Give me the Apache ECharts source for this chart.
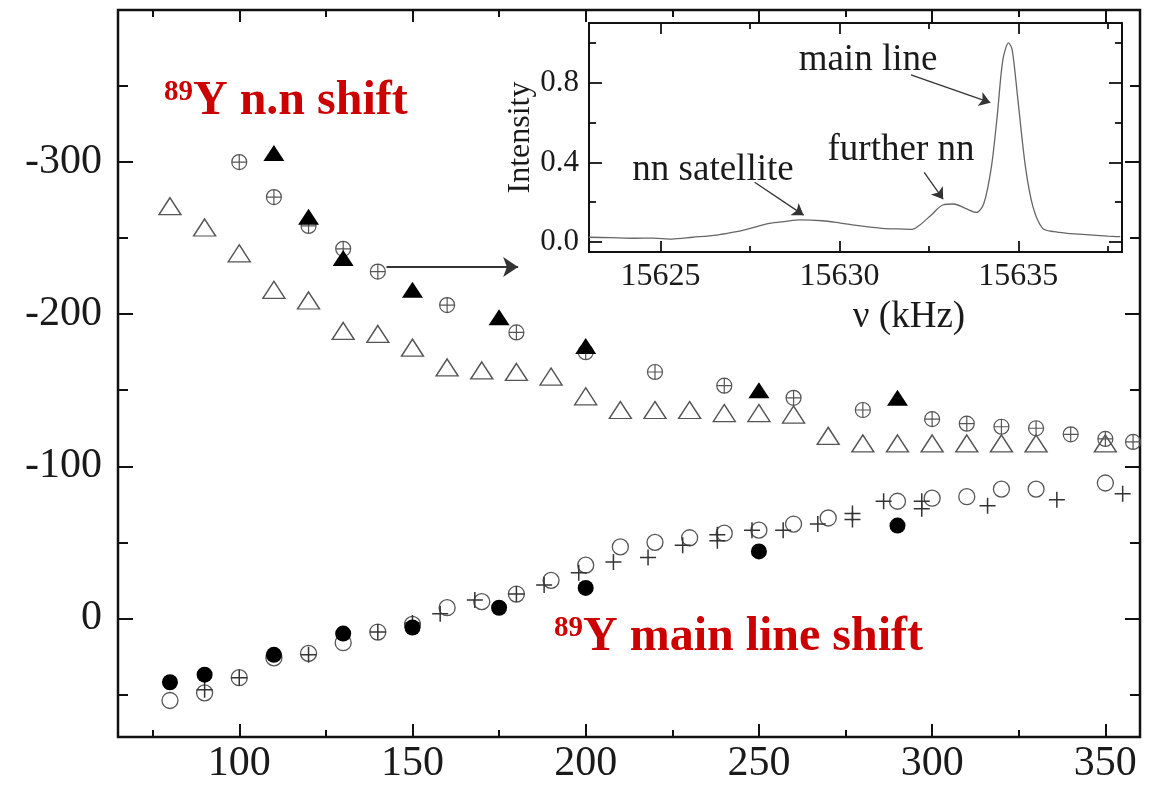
<!DOCTYPE html>
<html>
<head>
<meta charset="utf-8">
<script src="https://cdn.jsdelivr.net/npm/echarts@6/dist/echarts.min.js"></script>
<style>html,body{margin:0;padding:0;background:#fff;}#c{width:1149px;height:788px;}</style>
</head>
<body>
<div id="c"></div>
<script>
// ---------- tick values ----------
const X_MAJOR = [100, 150, 200, 250, 300, 350];
const X_MINOR = [75, 125, 175, 225, 275, 325];
const Y_MAJOR = [-400, -300, -200, -100, 0];
const Y_LABELS = [-300, -200, -100, 0];
const Y_MINOR = [-350, -250, -150, -50, 50];
const NU_MAJOR = [15625, 15630, 15635];
const NU_MINOR = [15627.5, 15632.5, 15637.5];
const I_MAJOR = [0, 0.4, 0.8];
const I_MINOR = [0.2, 0.6, 1.0];

// ---------- main panel data ----------
// open triangles
const triOpenX = [80, 90, 100, 110, 120, 130, 140, 150, 160, 170, 180, 190, 200, 210, 220, 230, 240, 250, 260, 270, 280, 290, 300, 310, 320, 330, 350];
const triOpenY = [-271, -257, -240, -216, -209, -189, -187, -178, -165, -163, -162, -159, -146, -137, -137, -137, -135, -135, -134, -120, -115, -115, -115, -115, -115, -115, -115];
// filled triangles
const triFillX = [110, 120, 130, 150, 175, 200, 250, 290];
const triFillY = [-306, -264, -237, -216, -198, -179, -150, -145];
// crossed circles
const crossCircX = [100, 110, 120, 130, 140, 160, 180, 200, 220, 240, 260, 280, 300, 310, 320, 330, 340, 350, 358];
const crossCircY = [-300, -277, -258, -243, -228, -206, -188, -175, -162, -153, -145, -137, -131, -128, -126, -125, -121, -118, -116];
// open circles
const circOpenX = [80, 90, 100, 110, 120, 130, 140, 150, 160, 170, 180, 190, 200, 210, 220, 230, 240, 250, 260, 270, 290, 300, 310, 320, 330, 350];
const circOpenY = [54, 49, 39, 26, 23, 16, 9, 4, -7, -11, -16, -25, -35, -47, -50, -53, -56, -58, -62, -66, -77, -79, -80, -85, -85, -89];
// plus signs
const plusX = [90, 100, 120, 140, 150, 158, 168, 180, 188, 198, 208, 218, 228, 238, 238, 248, 257, 267, 277, 277, 286, 297, 297, 316, 336, 355];
const plusY = [47, 39, 24, 9, 3, -3, -12, -16, -22, -30, -37, -40, -48, -55, -51, -58, -58, -62, -69, -65, -77, -77, -72, -74, -78, -82];
// filled circles
const circFillX = [80, 90, 110, 130, 150, 175, 200, 250, 290];
const circFillY = [42, 37, 24, 10, 6, -7, -20, -44, -61];

// arrow in main panel (from -> to)
const arrowMainX = [142.5, 180.5];
const arrowMainY = [-231, -231];

// ---------- inset spectrum ----------
const nu = [15622.99, 15623.6, 15624.26, 15624.8, 15625.31, 15625.9, 15626.57, 15627.0, 15627.41, 15628.04, 15628.5, 15628.89, 15629.52, 15630.0, 15630.36, 15630.8, 15631.2, 15631.6, 15632.04, 15632.25, 15632.57, 15632.89, 15633.2, 15633.52, 15633.83, 15634.04, 15634.25, 15634.41, 15634.57, 15634.73, 15634.83, 15634.99, 15635.2, 15635.41, 15635.68, 15636.0, 15636.36, 15636.7, 15637.09, 15637.5, 15637.85];
const intensity = [0.024, 0.022, 0.019, 0.02, 0.015, 0.024, 0.035, 0.048, 0.064, 0.094, 0.104, 0.111, 0.107, 0.096, 0.086, 0.076, 0.069, 0.066, 0.064, 0.086, 0.136, 0.186, 0.191, 0.169, 0.149, 0.195, 0.379, 0.63, 0.916, 1.0, 0.966, 0.714, 0.379, 0.178, 0.069, 0.052, 0.044, 0.04, 0.035, 0.03, 0.027];

// inset arrows [fromNu, fromI, toNu, toI]
const arrowMain = [15632.0, 0.84, 15634.22, 0.70];
const arrowFurther = [15632.37, 0.35, 15632.9, 0.215];
const arrowSat = [15627.63, 0.30, 15629.0, 0.135];

const FONT = '"Liberation Serif", "Times New Roman", serif';
const zip = (a, b) => a.map((v, i) => [v, b[i]]);

const crossCirclePath = 'path://M0,-10A10,10 0 1,1 0,10A10,10 0 1,1 0,-10Z M-10,0L10,0 M0,-10L0,10';
const plusPath = 'path://M-10,0L10,0 M0,-10L0,10';

function tickAxis(opts) {
  const base = {
    type: 'value',
    gridIndex: opts.grid,
    position: opts.pos,
    min: opts.min, max: opts.max,
    inverse: !!opts.inverse,
    splitLine: { show: false },
    axisLine: { show: false, onZero: false },
    axisTick: { show: true, inside: true, length: opts.len, customValues: opts.ticks, lineStyle: { color: '#111', width: opts.tw || 2 } },
    axisLabel: opts.labels ? {
      show: true, customValues: opts.labels, fontSize: opts.fs, fontFamily: FONT, color: '#1a1a1a', margin: opts.margin,
      formatter: opts.fmt || (v => String(v))
    } : { show: false },
    silent: true
  };
  if (opts.name) Object.assign(base, opts.name);
  return base;
}

const xAxes = [
  tickAxis({ grid: 0, pos: 'bottom', min: 65, max: 360, len: 13, ticks: X_MAJOR, labels: X_MAJOR, fs: 42, margin: 6 }),
  tickAxis({ grid: 0, pos: 'bottom', min: 65, max: 360, len: 7, ticks: X_MINOR }),
  tickAxis({ grid: 0, pos: 'top', min: 65, max: 360, len: 12, ticks: X_MAJOR }),
  tickAxis({ grid: 0, pos: 'top', min: 65, max: 360, len: 7, ticks: X_MINOR }),
  tickAxis({ grid: 1, pos: 'bottom', min: 15623, max: 15637.9, len: 11, ticks: NU_MAJOR, labels: NU_MAJOR, fs: 32, margin: 9, tw: 1.8 }),
  tickAxis({ grid: 1, pos: 'bottom', min: 15623, max: 15637.9, len: 6, ticks: NU_MINOR, tw: 1.8 }),
  tickAxis({ grid: 1, pos: 'top', min: 15623, max: 15637.9, len: 11, ticks: NU_MAJOR, tw: 1.8 }),
  tickAxis({ grid: 1, pos: 'top', min: 15623, max: 15637.9, len: 6, ticks: NU_MINOR, tw: 1.8 })
];
const yAxes = [
  tickAxis({ grid: 0, pos: 'left', min: -400, max: 78, inverse: true, len: 15, ticks: Y_MAJOR, labels: Y_LABELS, fs: 42, margin: 16 }),
  tickAxis({ grid: 0, pos: 'left', min: -400, max: 78, inverse: true, len: 10, ticks: Y_MINOR }),
  tickAxis({ grid: 0, pos: 'right', min: -400, max: 78, inverse: true, len: 15, ticks: Y_MAJOR }),
  tickAxis({ grid: 0, pos: 'right', min: -400, max: 78, inverse: true, len: 10, ticks: Y_MINOR }),
  tickAxis({ grid: 1, pos: 'left', min: -0.05, max: 1.1, len: 13, ticks: I_MAJOR, labels: I_MAJOR, fs: 31, margin: 10, tw: 1.8,
    fmt: v => Number(v).toFixed(1),
    name: { name: 'Intensity', nameLocation: 'middle', nameGap: 52, nameRotate: 90, nameTextStyle: { fontSize: 32, fontFamily: FONT, color: '#1a1a1a' } } }),
  tickAxis({ grid: 1, pos: 'left', min: -0.05, max: 1.1, len: 7, ticks: I_MINOR, tw: 1.8 }),
  tickAxis({ grid: 1, pos: 'right', min: -0.05, max: 1.1, len: 13, ticks: I_MAJOR, tw: 1.8 }),
  tickAxis({ grid: 1, pos: 'right', min: -0.05, max: 1.1, len: 7, ticks: I_MINOR, tw: 1.8 })
];

function scatter(name, data, symbol, size, fill, stroke, bw, z, extra) {
  return Object.assign({
    name, type: 'scatter', xAxisIndex: 0, yAxisIndex: 0, data, symbol, symbolSize: size, z,
    itemStyle: { color: fill, borderColor: stroke, borderWidth: bw, opacity: 1 },
    emphasis: { disabled: true }, silent: true, animation: false, clip: true
  }, extra || {});
}

const arrowLine = (a, w, size, color) => ({
  silent: true, animation: false, symbol: ['none', 'arrow'], symbolSize: size,
  label: { show: false }, lineStyle: { type: 'solid', color, width: w },
  emphasis: { disabled: true },
  data: [[{ coord: [a[0], a[1]] }, { coord: [a[2], a[3]] }]]
});

const series = [
  scatter('triOpen', zip(triOpenX, triOpenY), 'triangle', [22, 17], 'rgba(0,0,0,0)', '#555', 1.4, 2),
  scatter('crossCirc', zip(crossCircX, crossCircY), crossCirclePath, 15, 'rgba(0,0,0,0)', '#555', 1.2, 3,
    { markLine: arrowLine([arrowMainX[0], arrowMainY[0], arrowMainX[1], arrowMainY[1]], 2, 15, '#333') }),
  scatter('triFill', zip(triFillX, triFillY), 'triangle', [21, 16], '#000', '#000', 0, 4),
  scatter('circOpen', zip(circOpenX, circOpenY), 'circle', 16, 'rgba(0,0,0,0)', '#555', 1.3, 3),
  scatter('plus', zip(plusX, plusY), plusPath, 16, 'rgba(0,0,0,0)', '#333', 1.5, 3),
  scatter('circFill', zip(circFillX, circFillY), 'circle', 16, '#000', '#000', 0, 5),
  {
    name: 'spectrum', type: 'line', xAxisIndex: 4, yAxisIndex: 4, data: zip(nu, intensity),
    showSymbol: false, symbol: 'none', smooth: 0.3, silent: true, animation: false,
    lineStyle: { color: '#666', width: 1.3 },
    markLine: {
      silent: true, animation: false, symbol: ['none', 'arrow'], symbolSize: 11,
      label: { show: false }, lineStyle: { type: 'solid', color: '#333', width: 1.3 },
      emphasis: { disabled: true },
      data: [arrowMain, arrowFurther, arrowSat].map(a => [{ coord: [a[0], a[1]] }, { coord: [a[2], a[3]] }])
    }
  }
];

const RED = '#cc0000';
const redRich = {
  s: { fontSize: 29, fontWeight: 'bold', fontFamily: FONT, fill: RED, verticalAlign: 'top', lineHeight: 48 },
  m: { fontSize: 48, fontWeight: 'bold', fontFamily: FONT, fill: RED, lineHeight: 48 }
};
const annFont = { fontSize: 37, fontFamily: FONT, fill: '#1a1a1a' };

const chart = echarts.init(document.getElementById('c'), null, { renderer: 'canvas' });
chart.setOption({
  backgroundColor: '#fff',
  animation: false,
  grid: [
    { left: 118, top: 10, width: 1022, height: 727, show: true, backgroundColor: '#fff', borderColor: '#111', borderWidth: 2.5 },
    { left: 589, top: 23, width: 533, height: 229, show: true, backgroundColor: '#fff', borderColor: '#111', borderWidth: 2 }
  ],
  xAxis: xAxes,
  yAxis: yAxes,
  series,
  graphic: [
    { type: 'text', left: 164, top: 78, z: 100, style: { text: '{s|89}{m|Y n.n shift}', rich: redRich } },
    { type: 'text', left: 554, top: 614, z: 100, style: { text: '{s|89}{m|Y main line shift}', rich: redRich } },
    { type: 'text', x: 868, y: 60, z: 100, style: Object.assign({ text: 'main line', align: 'center', verticalAlign: 'middle' }, annFont) },
    { type: 'text', x: 901, y: 150, z: 100, style: Object.assign({ text: 'further nn', align: 'center', verticalAlign: 'middle' }, annFont) },
    { type: 'text', x: 713, y: 170, z: 100, style: Object.assign({ text: 'nn satellite', align: 'center', verticalAlign: 'middle' }, annFont) },
    { type: 'text', x: 909, y: 317, z: 100, style: Object.assign({ text: 'ν (kHz)', align: 'center', verticalAlign: 'middle' }, annFont) }
  ]
});
</script>
</body>
</html>
